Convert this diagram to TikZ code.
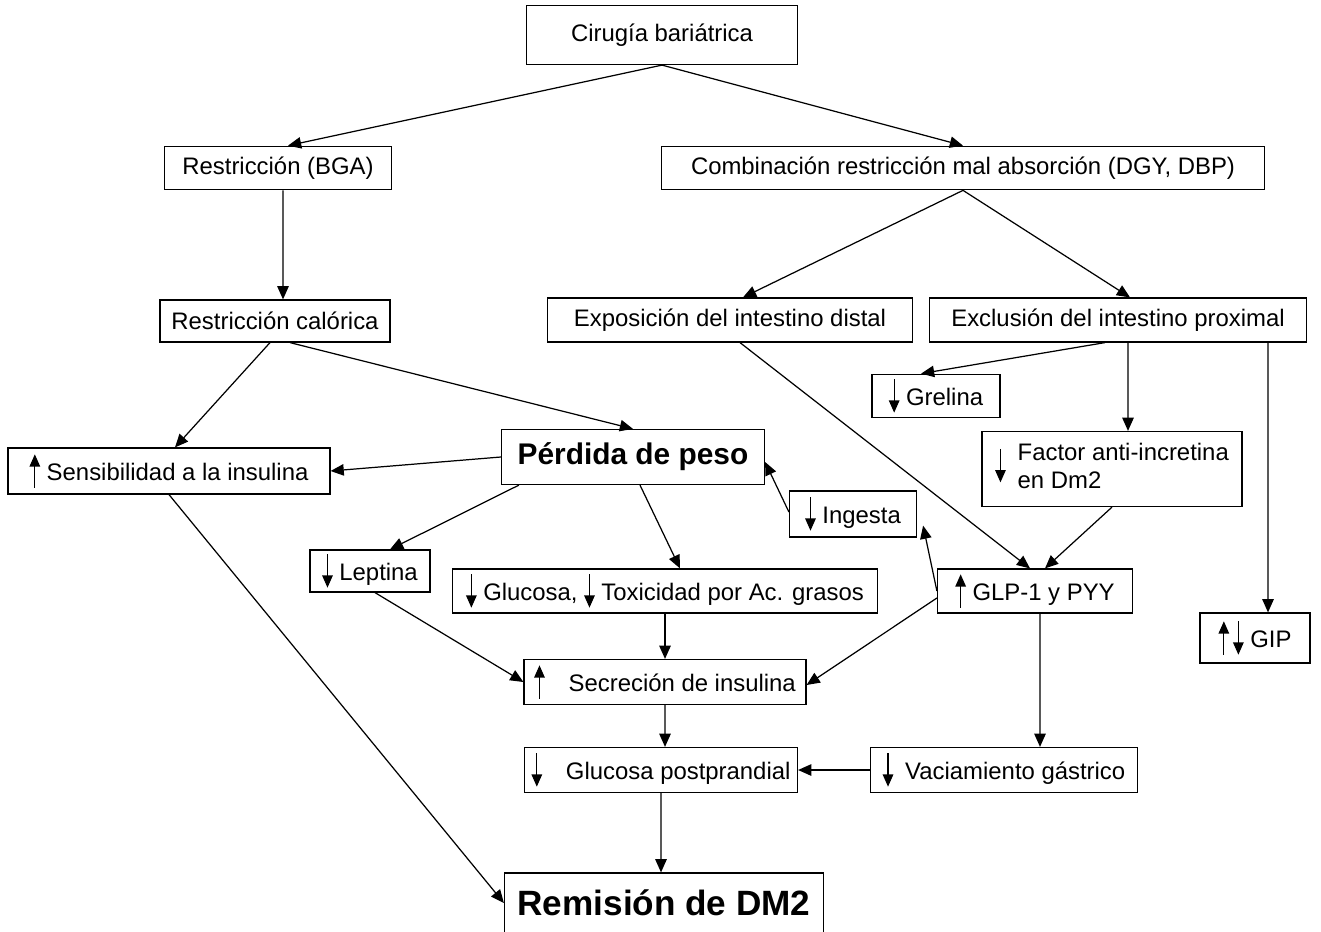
\documentclass[tikz,border=0pt]{standalone}
\usepackage{fontspec}
\setmainfont{Liberation Sans}
\usetikzlibrary{arrows.meta}
\usetikzlibrary{positioning}

\newcommand{\upar}{\tikz[baseline=0pt]\draw[line width=0.7pt,-{Triangle[length=7pt,width=6pt]}] (0pt,-4pt) -- (0pt,15pt);}
\newcommand{\dnar}{\tikz[baseline=0pt]\draw[line width=0.7pt,-{Triangle[length=7pt,width=6pt]}] (0pt,15pt) -- (0pt,-4pt);}

\begin{document}
\begin{tikzpicture}[
  x=0.02cm, y=-0.02cm,
  >={Triangle[length=7.5pt,width=6.5pt]},
  every node/.style={font=\fontsize{13.6}{16}\selectfont},
  box/.style={draw, inner sep=0pt, minimum height=0.87cm, line width=0.7pt},
  arr/.style={->, line width=0.7pt}
]
\useasboundingbox (0,0) rectangle (1321,932);

\node [box, minimum width=5.42cm, minimum height=1.18cm] (cir) at (662,35) {Cirugía bariátrica};
\node [box, minimum width=4.54cm] (bga) at (278,168) {Restricción (BGA)};
\node [box, minimum width=12.06cm] (comb) at (963,168) {Combinación restricción mal absorción (DGY, DBP)};
\node [box, minimum width=4.6cm, minimum height=0.84cm] (cal) at (275,321) {Restricción calórica};
\node [box, minimum width=7.3cm, minimum height=0.88cm] (dist) at (730,320) {Exposición del intestino distal};
\node [box, minimum width=7.54cm, minimum height=0.88cm] (prox) at (1118,320) {Exclusión del intestino proximal};
\node [box, minimum width=2.56cm] (grel) at (936,396) {\dnar\ Grelina};
\node [box, minimum width=6.44cm, minimum height=0.92cm] (sens) at (169,471) {\upar\ Sensibilidad a la insulina};
\node [box, minimum width=5.26cm, minimum height=1.1cm, font=\fontsize{17}{20}\selectfont\bfseries] (perd) at (633,457) {Pérdida de peso};
\node [box, minimum width=5.2cm, minimum height=1.5cm] (fact) at (1112,469) {\dnar\enspace\begin{tabular}{@{}l@{}}Factor anti-incretina\\en Dm2\end{tabular}};
\node [box, minimum width=2.54cm, minimum height=0.92cm] (ing) at (853,514) {\dnar\ Ingesta};
\node [box, minimum width=2.4cm, minimum height=0.84cm] (lep) at (370,571) {\dnar\ Leptina};
\node [box, minimum width=8.5cm, minimum height=0.88cm] (gluc) at (665,591) {\dnar\ Glucosa, \dnar\ Toxicidad por Ac. grasos};
\node [box, minimum width=3.9cm, minimum height=0.88cm] (glp) at (1035,591) {\upar\ GLP-1 y PYY};
\node [box, minimum width=2.2cm, minimum height=1.0cm] (gip) at (1255,638) {\upar\,\dnar\ GIP};
\node [box, minimum width=5.64cm, minimum height=0.9cm] (secr) at (665,682) {\upar\quad Secreción de insulina};
\node [box, minimum width=5.46cm, minimum height=0.9cm] (post) at (661,770) {\dnar\quad Glucosa postprandial};
\node [box, minimum width=5.34cm, minimum height=0.9cm] (vac) at (1004,770) {\dnar\enspace Vaciamiento gástrico};
\node [box, minimum width=6.38cm, minimum height=1.2cm, font=\fontsize{20}{24}\selectfont\bfseries] (rem) at (664,903) {Remisión de DM2};

\draw [arr] (cir.south) -- ([xshift=0.2cm]bga.north);
\draw [arr] (cir.south) -- (comb.north);
\draw [arr] ([xshift=0.1cm]bga.south) -- ([xshift=0.16cm]cal.north);
\draw [arr] (comb.south) -- ([xshift=0.26cm]dist.north);
\draw [arr] (comb.south) -- ([xshift=0.24cm]prox.north);
\draw [arr] ([xshift=-0.1cm]cal.south) -- ([xshift=0.12cm]sens.north);
\draw [arr] ([xshift=0.3cm]cal.south) -- (perd.north);
\draw [arr] (perd.west) -- (sens.east);
\draw [arr] ([xshift=0.36cm]perd.south west) -- ([xshift=0.4cm]lep.north);
\draw [arr] ([xshift=0.14cm]perd.south) -- ([xshift=0.3cm]gluc.north);
\draw [arr] ([yshift=0.04cm]ing.west) -- ([yshift=-0.1cm]perd.east);
\draw [arr] (glp.west) -- ([xshift=0.12cm,yshift=0.24cm]ing.south east);
\draw [arr] ([yshift=-0.14cm]glp.west) -- ([yshift=-0.06cm]secr.east);
\draw [arr] ([xshift=0.2cm]dist.south) -- ([xshift=-0.1cm]glp.north);
\draw [arr] (fact.south) -- ([xshift=0.2cm]glp.north);
\draw [arr] ([xshift=-0.26cm]prox.south) -- ([xshift=-0.3cm]grel.north);
\draw [arr] ([xshift=0.2cm]prox.south) -- ([xshift=0.32cm]fact.north);
\draw [arr] ([xshift=-0.78cm]prox.south east) -- ([xshift=0.26cm]gip.north);
\draw [arr] ([xshift=0.1cm]lep.south) -- (secr.west);
\draw [arr] (gluc.south) -- (secr.north);
\draw [arr] (secr.south) -- ([xshift=0.08cm]post.north);
\draw [arr] ([xshift=0.1cm]glp.south) -- ([xshift=0.72cm]vac.north);
\draw [arr] (vac.west) -- (post.east);
\draw [arr] (post.south) -- ([xshift=-0.06cm]rem.north);
\draw [arr] (sens.south) -- (rem.west);
\end{tikzpicture}
\end{document}
